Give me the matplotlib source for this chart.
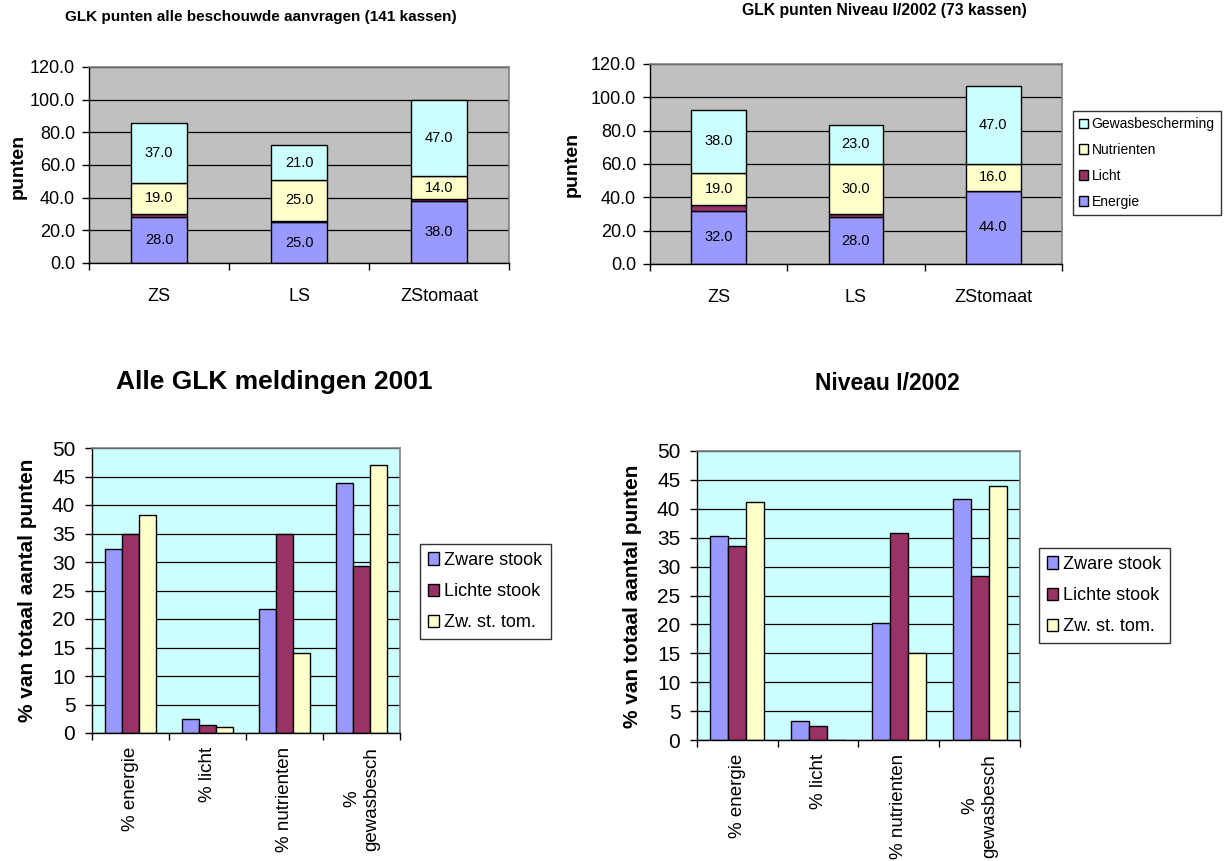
import numpy as np
import matplotlib
matplotlib.use("Agg")
import matplotlib.pyplot as plt
from matplotlib.patches import Patch

W, H = 1226, 861

# ---- data ----
kassen = ["ZS", "LS", "ZStomaat"]
onderdelen = ["Energie", "Licht", "Nutrienten", "Gewasbescherming"]

alle_energie = [28.0, 25.0, 38.0]
alle_licht = [2.0, 1.0, 1.0]
alle_nutrienten = [19.0, 25.0, 14.0]
alle_gewas = [37.0, 21.0, 47.0]

niv_energie = [32.0, 28.0, 44.0]
niv_licht = [3.6, 2.2, 0.0]
niv_nutrienten = [19.0, 30.0, 16.0]
niv_gewas = [38.0, 23.0, 47.0]

categorieen = ["% energie", "% licht", "% nutrienten", "%\ngewasbesch"]
reeksen = ["Zware stook", "Lichte stook", "Zw. st. tom."]

m2001_zware = [32.2, 2.4, 21.8, 43.9]
m2001_lichte = [34.9, 1.35, 34.9, 29.3]
m2001_tom = [38.2, 1.05, 14.1, 47.0]

n2002_zware = [35.3, 3.3, 20.2, 41.7]
n2002_lichte = [33.6, 2.5, 35.8, 28.3]
n2002_tom = [41.1, 0.0, 15.1, 44.0]

C_ENERGIE = "#9999FF"
C_LICHT = "#993366"
C_NUTR = "#FFFFCC"
C_GEWAS = "#CCFFFF"

plt.rcParams["font.family"] = "Liberation Sans"

fig = plt.figure(figsize=(W / 100, H / 100), dpi=100)


def add_ax(l, t, r, b):
    return fig.add_axes([l / W, 1 - b / H, (r - l) / W, (b - t) / H])


def style_axes(ax, n, bg):
    ax.set_facecolor(bg)
    ax.set_xlim(-0.5, n - 0.5)
    ax.set_axisbelow(True)
    ax.yaxis.grid(True, color="black", linewidth=0.9)
    for s in ("top", "right"):
        ax.spines[s].set_color("#808080")
        ax.spines[s].set_linewidth(1.2)
    for s in ("left", "bottom"):
        ax.spines[s].set_color("black")
        ax.spines[s].set_linewidth(1.0)
    ax.set_xticks(np.arange(n + 1) - 0.5)
    ax.set_xticklabels([""] * (n + 1))
    ax.tick_params(axis="x", which="major", length=5, width=1, direction="out")
    ax.tick_params(axis="y", length=5, width=1, direction="out")


def stacked(ax, energie, licht, nutr, gewas):
    x = np.arange(len(kassen))
    w = 0.4
    kw = dict(width=w, edgecolor="black", linewidth=1.0)
    b1 = ax.bar(x, energie, color=C_ENERGIE, **kw)
    bottom = np.array(energie)
    ax.bar(x, licht, bottom=bottom, color=C_LICHT, **kw)
    bottom = bottom + np.array(licht)
    b3 = ax.bar(x, nutr, bottom=bottom, color=C_NUTR, **kw)
    bottom = bottom + np.array(nutr)
    b4 = ax.bar(x, gewas, bottom=bottom, color=C_GEWAS, **kw)
    for bc in (b1, b3, b4):
        ax.bar_label(bc, fmt="%.1f", label_type="center", fontsize=10.5)
    ax.set_ylim(0, 120)
    ax.set_yticks(np.arange(0, 121, 20))
    ax.set_yticklabels([f"{v:.1f}" for v in np.arange(0, 121, 20)], fontsize=13)
    ax.set_xticks(x, minor=True)
    ax.set_xticklabels(kassen, minor=True, fontsize=13)
    ax.tick_params(axis="x", which="minor", length=0, pad=18)
    ax.tick_params(axis="y", pad=5)


def grouped(ax, zware, lichte, tom):
    x = np.arange(len(categorieen))
    w = 0.222
    kw = dict(width=w, edgecolor="black", linewidth=1.0)
    ax.bar(x - w, zware, color=C_ENERGIE, **kw)
    ax.bar(x, lichte, color=C_LICHT, **kw)
    ax.bar(x + w, tom, color=C_NUTR, **kw)
    ax.set_ylim(0, 50)
    ax.set_yticks(np.arange(0, 51, 5))
    ax.set_yticklabels([str(v) for v in range(0, 51, 5)], fontsize=15)
    ax.set_xticks(x, minor=True)
    ax.set_xticklabels(categorieen, minor=True, fontsize=13.5, rotation=90,
                       va="top", ha="center", multialignment="center")
    ax.tick_params(axis="x", which="minor", length=0, pad=10)
    ax.tick_params(axis="y", pad=7)


def square_handles(colors, labels):
    return [Patch(facecolor=c, edgecolor="black", linewidth=1.0, label=l)
            for c, l in zip(colors, labels)]


def legend_at(handles, x, y, size, spacing, pad):
    leg = fig.legend(handles=handles, loc="upper left", bbox_to_anchor=(x / W, 1 - y / H),
                     bbox_transform=fig.transFigure, borderaxespad=0, frameon=True,
                     fancybox=False, edgecolor="black", handlelength=0.6, handleheight=0.7,
                     handletextpad=0.3, labelspacing=spacing, borderpad=pad,
                     prop={"size": size})
    leg.get_frame().set_linewidth(1.0)
    return leg


# ---- top left ----
ax1 = add_ax(89, 67, 509, 263)
style_axes(ax1, 3, "#C0C0C0")
stacked(ax1, alle_energie, alle_licht, alle_nutrienten, alle_gewas)
fig.text(18 / W, 1 - 166 / H, "punten", rotation=90, ha="center", va="center",
         fontsize=14, fontweight="bold")
fig.text(261 / W, 1 - 17 / H, "GLK punten alle beschouwde aanvragen (141 kassen)",
         ha="center", va="center", fontsize=11, fontweight="bold")

# ---- top right ----
ax2 = add_ax(650, 64, 1062, 264)
style_axes(ax2, 3, "#C0C0C0")
stacked(ax2, niv_energie, niv_licht, niv_nutrienten, niv_gewas)
fig.text(572 / W, 1 - 164 / H, "punten", rotation=90, ha="center", va="center",
         fontsize=14, fontweight="bold")
fig.text(884 / W, 1 - 11 / H, "GLK punten Niveau I/2002 (73 kassen)",
         ha="center", va="center", fontsize=11.3, fontweight="bold")
legend_at(square_handles([C_GEWAS, C_NUTR, C_LICHT, C_ENERGIE], onderdelen[::-1]),
          1073, 111, 10, 0.85, 0.45)

# ---- bottom left ----
ax3 = add_ax(92, 448, 400, 733)
style_axes(ax3, 4, "#CCFFFF")
grouped(ax3, m2001_zware, m2001_lichte, m2001_tom)
fig.text(28 / W, 1 - 590 / H, "% van totaal aantal punten", rotation=90,
         ha="center", va="center", fontsize=15, fontweight="bold")
fig.text(274 / W, 1 - 382 / H, "Alle GLK meldingen 2001", ha="center", va="center",
         fontsize=19, fontweight="bold")
legend_at(square_handles([C_ENERGIE, C_LICHT, C_NUTR], reeksen), 420, 544, 13, 0.78, 0.45)

# ---- bottom right ----
ax4 = add_ax(697, 451, 1020, 740)
style_axes(ax4, 4, "#CCFFFF")
grouped(ax4, n2002_zware, n2002_lichte, n2002_tom)
fig.text(632 / W, 1 - 596 / H, "% van totaal aantal punten", rotation=90,
         ha="center", va="center", fontsize=15, fontweight="bold")
fig.text(887 / W, 1 - 384 / H, "Niveau I/2002", ha="center", va="center",
         fontsize=16.5, fontweight="bold")
legend_at(square_handles([C_ENERGIE, C_LICHT, C_NUTR], reeksen), 1039, 548, 13, 0.78, 0.45)

fig.savefig("out.png", dpi=100)
